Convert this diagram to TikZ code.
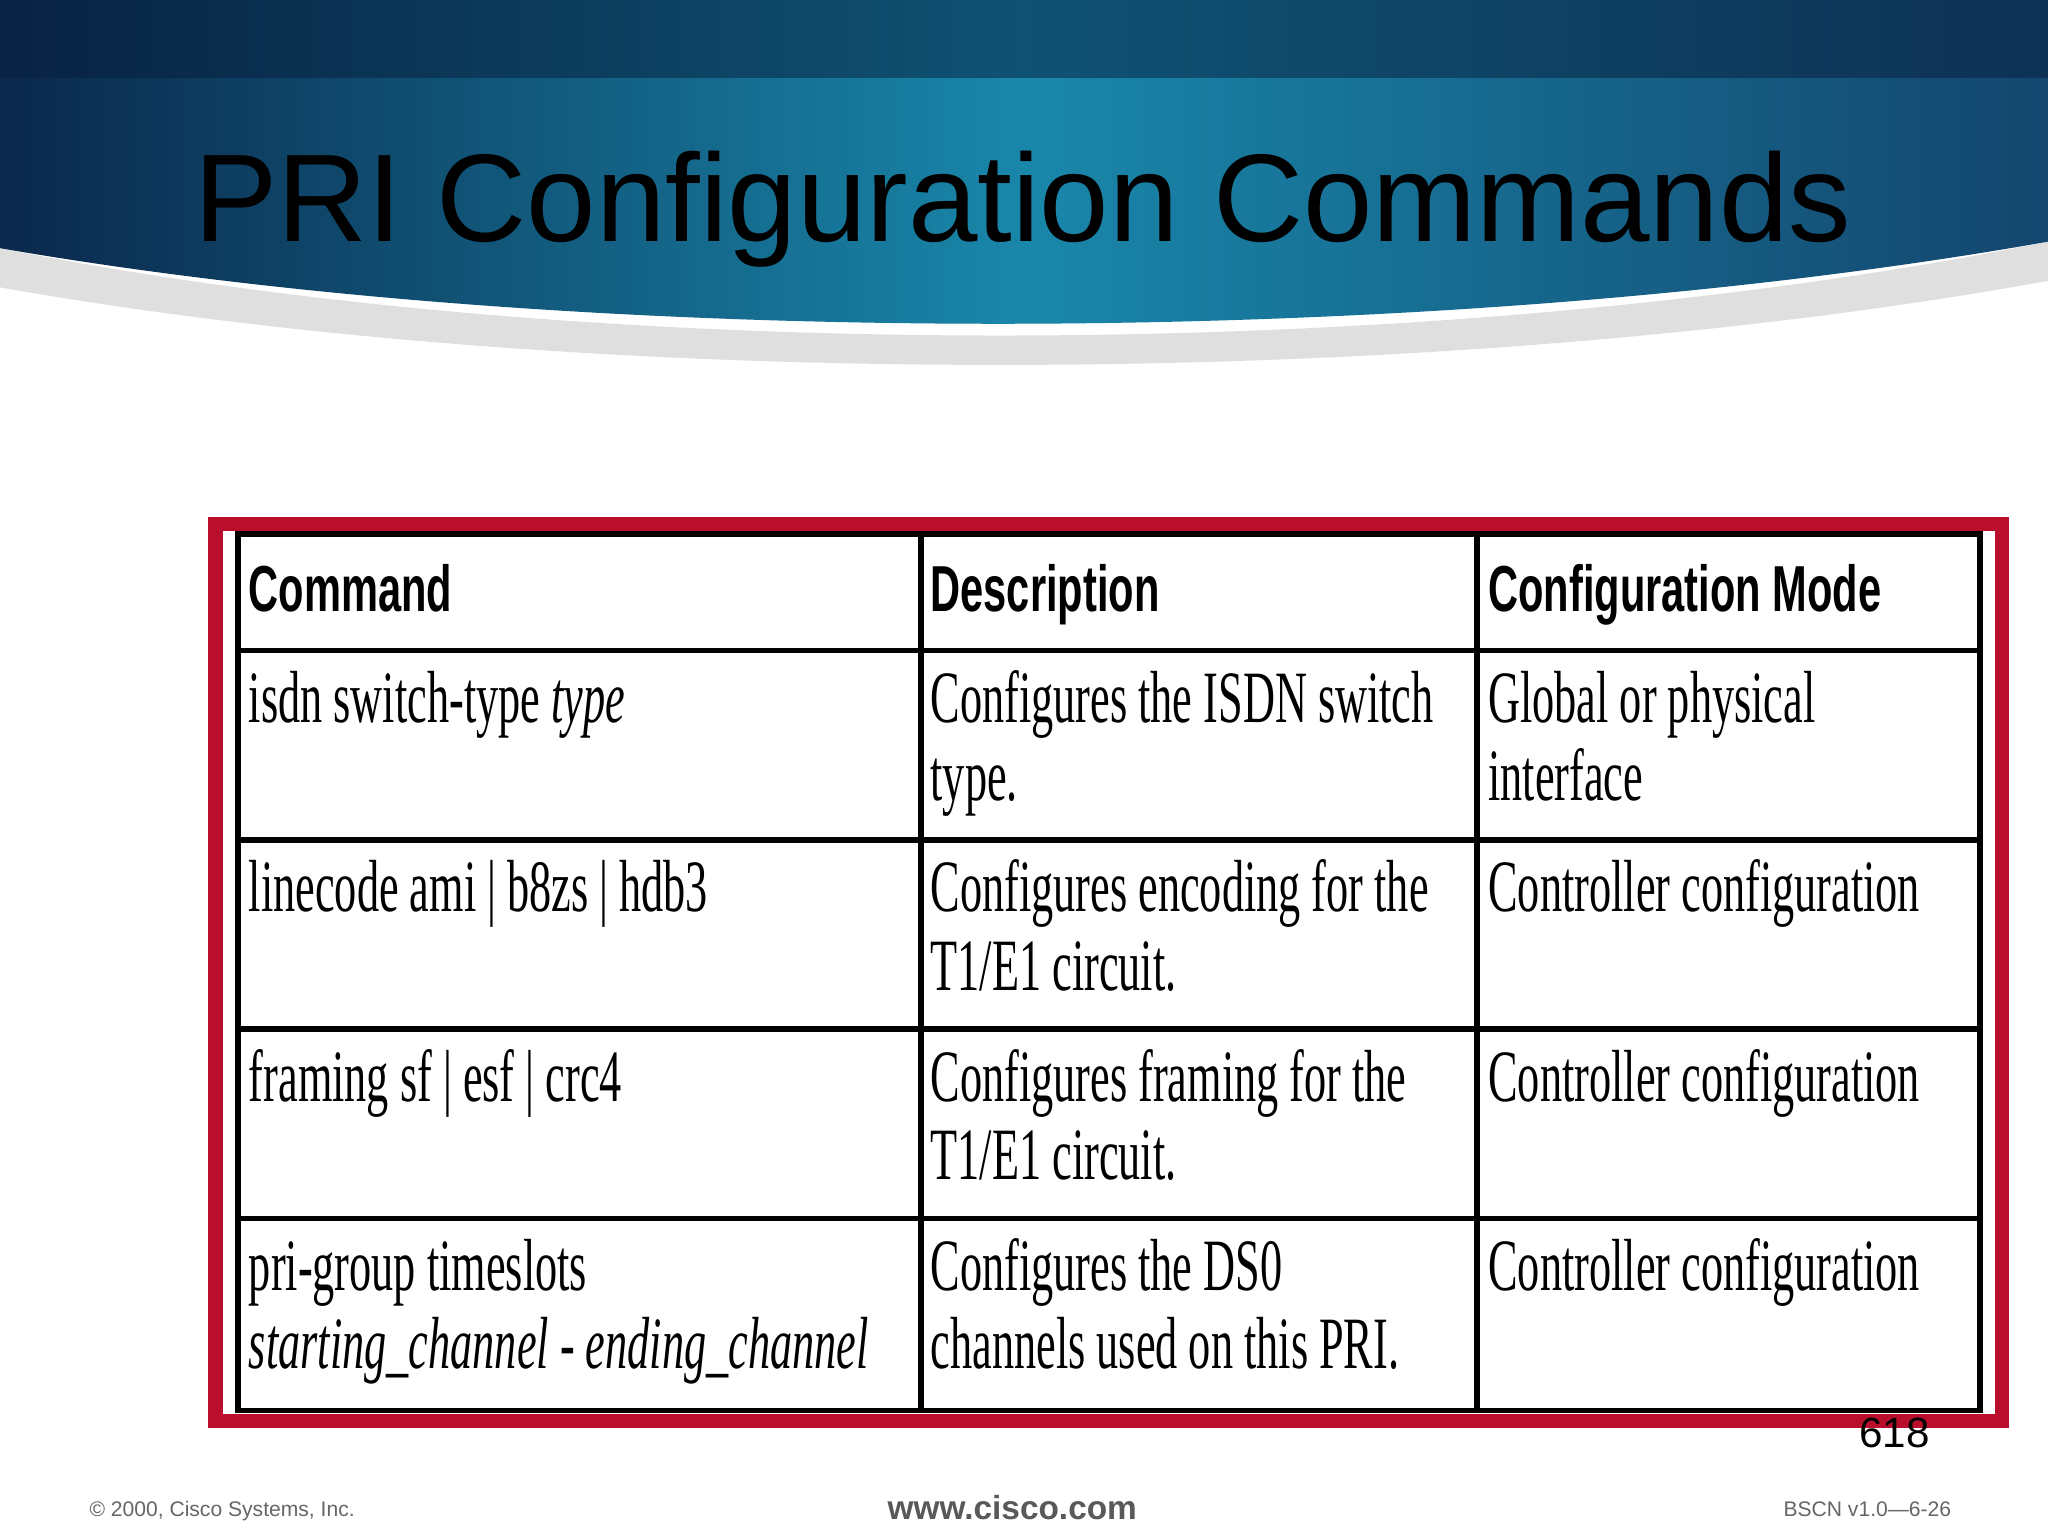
\documentclass[tikz,border=0pt]{standalone}
\usepackage{fontspec}
\setmainfont{Liberation Serif}
\newfontfamily\titlefont{Liberation Sans}
\newfontfamily\cellfont[FakeStretch=0.6]{Liberation Serif}
\newfontfamily\headfont[FakeStretch=0.64]{Liberation Sans}
\definecolor{navyA}{RGB}{10,40,75}
\definecolor{navyB}{RGB}{20,70,110}
\definecolor{tealM}{RGB}{25,135,170}
\definecolor{navyTop}{RGB}{8,30,60}
\definecolor{ciscoRed}{RGB}{185,15,45}
\begin{document}
\begin{tikzpicture}[x=0.01306cm,y=-0.01306cm,
  cell/.style={anchor=base west,inner sep=0pt,font=\cellfont\fontsize{21}{24}\selectfont},
  head/.style={anchor=base west,inner sep=0pt,font=\headfont\bfseries\fontsize{18.5}{22}\selectfont},
  grid/.style={line width=1.6pt,black}]
\useasboundingbox (0,0) rectangle (1568,1176);
\fill[white] (0,0) rectangle (1568,1176);
% header band with shadow
\fill[gray!25] (0,190) .. controls (450,280) and (1100,280) .. (1568,185) -- (1568,215) .. controls (1100,300) and (450,300) .. (0,220) -- cycle;
\shade[left color=navyA,right color=navyB,middle color=tealM]
  (0,0) -- (1568,0) -- (1568,185) .. controls (1100,268) and (450,268) .. (0,190) -- cycle;
\fill[navyTop,opacity=0.5] (0,0) rectangle (1568,60);
\node[anchor=base west,inner sep=0pt,font=\titlefont\fontsize{35.5}{40}\selectfont] (title) at (148,185) {PRI Configuration Commands};
% table
\draw[line width=4pt,ciscoRed] (165,401) rectangle (1533,1088);
\draw[grid] (182,409) rectangle (1516,1080);
\foreach \y in {498,643,788,933} \draw[grid] (182,\y) -- (1516,\y);
\draw[grid] (705,409) -- (705,1080);
\draw[grid] (1131,409) -- (1131,1080);
\node[head] (h1) at (190,468) {Command};
\node[head] (h2) at (712,468) {Description};
\node[head] (h3) at (1139,468) {Configuration Mode};
\node[cell] (a1) at (190,553) {isdn switch-type \textit{type}};
\node[cell] (b1) at (712,553) {Configures the ISDN switch};
\node[cell] (b1b) at (712,613) {type.};
\node[cell] (c1) at (1139,553) {Global or physical};
\node[cell] (c1b) at (1139,613) {interface};
\node[cell] (a2) at (190,698) {linecode ami | b8zs | hdb3};
\node[cell] (b2) at (712,698) {Configures encoding for the};
\node[cell] (b2b) at (712,758) {T1/E1 circuit.};
\node[cell] (c2) at (1139,698) {Controller configuration};
\node[cell] (a3) at (190,843) {framing sf | esf | crc4};
\node[cell] (b3) at (712,843) {Configures framing for the};
\node[cell] (b3b) at (712,903) {T1/E1 circuit.};
\node[cell] (c3) at (1139,843) {Controller configuration};
\node[cell] (a4) at (190,988) {pri-group timeslots};
\node[cell] (a4b) at (190,1048) {\textit{starting\_channel} - \textit{ending\_channel}};
\node[cell] (b4) at (712,988) {Configures the DS0};
\node[cell] (b4b) at (712,1048) {channels used on this PRI.};
\node[cell] (c4) at (1139,988) {Controller configuration};
% footer
\node[anchor=base west,inner sep=0pt,font=\titlefont\fontsize{12}{14}\selectfont] (pg) at (1423,1108) {618};
\node[anchor=base west,inner sep=0pt,font=\titlefont\fontsize{6}{7}\selectfont,text=gray!80!black] (cp) at (68,1161) {© 2000, Cisco Systems, Inc.};
\node[anchor=base,inner sep=0pt,font=\titlefont\bfseries\fontsize{9.5}{11}\selectfont,text=gray!70!black] (www) at (775,1163) {www.cisco.com};
\node[anchor=base west,inner sep=0pt,font=\titlefont\fontsize{6}{7}\selectfont,text=gray!80!black] (bs) at (1365,1161) {BSCN v1.0—6-26};
\end{tikzpicture}
\end{document}
